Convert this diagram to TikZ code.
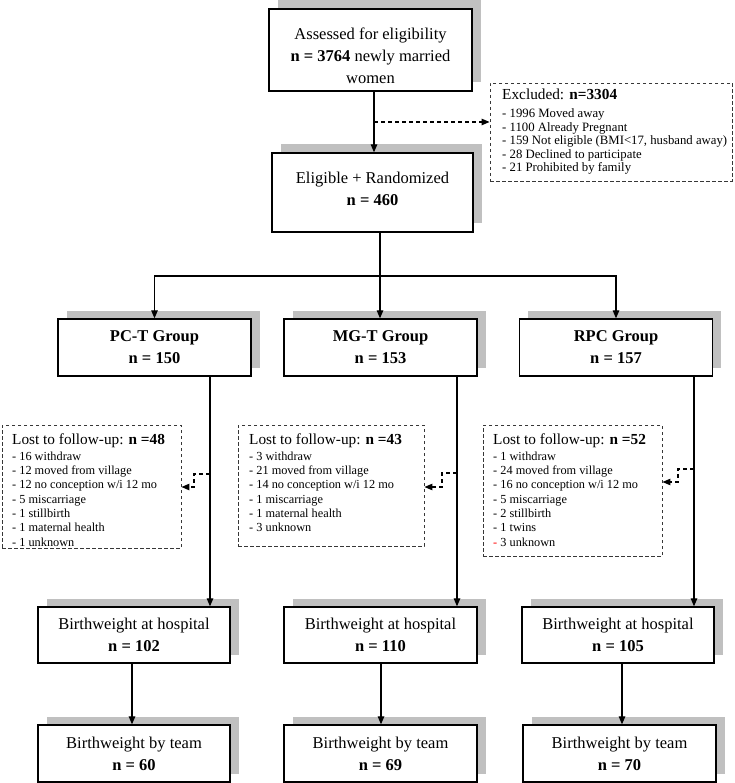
\documentclass[tikz,border=0pt]{standalone}
\usepackage{fontspec}
\setmainfont{Liberation Serif}
\usetikzlibrary{arrows.meta,shadows}
\definecolor{shade}{RGB}{192,192,192}
\definecolor{dashc}{RGB}{55,55,55}
\newcommand\hd[1]{{\fontsize{15.3}{15}\selectfont #1}}
\begin{document}
\begin{tikzpicture}[x=1pt,y=-1pt,
  box/.style={draw=black, line width=1.3pt, fill=white, inner sep=0pt, align=center,
     font=\fontsize{16.5}{22}\selectfont,
     general shadow={fill=shade, shadow xshift=8.5pt, shadow yshift=8.5pt}},
  dbox/.style={draw=dashc, line width=0.9pt, dash pattern=on 3.5pt off 2.5pt, fill=white, inner sep=0pt},
  big/.style={inner sep=0pt, align=center, font=\fontsize{16.5}{22}\selectfont},
  lost/.style={inner sep=0pt, align=left, anchor=north west, font=\fontsize{12.3}{14.3}\selectfont},
  excl/.style={inner sep=0pt, align=left, anchor=north west, font=\fontsize{12.75}{13.5}\selectfont},
  conn/.style={line width=1.2pt, draw=black},
  arr/.style={conn, -{Triangle[length=8pt,width=6.5pt]}},
  darr/.style={line width=1.1pt, draw=black, dash pattern=on 4pt off 3pt, -{Triangle[length=8pt,width=6.5pt]}},
]
\useasboundingbox (0,0) rectangle (734,783);

% main boxes
\node[box, minimum width=203pt, minimum height=82pt] (A) at (370.5,50) {};
\node[big] (At) at (370.5,56) {Assessed for eligibility\\\textbf{n = 3764} newly married\\women};
\node[box, minimum width=201pt, minimum height=79pt] (E) at (372.5,192.5) {};
\node[big] (Et) at (372.5,189) {Eligible + Randomized\\\textbf{n = 460}};

\node[box, minimum width=193pt, minimum height=57pt] (G1) at (154.5,347.5) {\textbf{PC-T Group}\\\textbf{n = 150}};
\node[box, minimum width=193pt, minimum height=57pt] (G2) at (380.5,347.5) {\textbf{MG-T Group}\\\textbf{n = 153}};
\node[box, minimum width=193pt, minimum height=57pt] (G3) at (616,347.5) {\textbf{RPC Group}\\\textbf{n = 157}};

\node[box, minimum width=192pt, minimum height=56pt] (H1) at (134,635) {Birthweight at hospital\\\textbf{n = 102}};
\node[box, minimum width=193pt, minimum height=56pt] (H2) at (380.5,635) {Birthweight at hospital\\\textbf{n = 110}};
\node[box, minimum width=192pt, minimum height=56pt] (H3) at (618,635) {Birthweight at hospital\\\textbf{n = 105}};

\node[box, minimum width=192pt, minimum height=57pt] (T1) at (134,753.5) {Birthweight by team\\\textbf{n = 60}};
\node[box, minimum width=193pt, minimum height=57pt] (T2) at (380.5,753.5) {Birthweight by team\\\textbf{n = 69}};
\node[box, minimum width=193pt, minimum height=57pt] (T3) at (619.5,753.5) {Birthweight by team\\\textbf{n = 70}};

% dashed boxes
\node[dbox, minimum width=242pt, minimum height=98pt] (X) at (611,132) {};
\node[excl] (Xt) at (502,88.5) {\hd{Excluded: \textbf{n=3304}}\\[5pt]
- 1996 Moved away\\
- 1100 Already Pregnant\\
- 159 Not eligible (BMI<17, husband away)\\
- 28 Declined to participate\\
- 21 Prohibited by family};

\node[dbox, minimum width=179pt, minimum height=123pt] (L1) at (91.5,486.5) {};
\node[lost] (L1t) at (12,434) {\hd{Lost to follow-up: \textbf{n =48}}\\[1pt]
- 16 withdraw\\
- 12 moved from village\\
- 12 no conception w/i 12 mo\\
- 5 miscarriage\\
- 1 stillbirth\\
- 1 maternal health\\
- 1 unknown};

\node[dbox, minimum width=186pt, minimum height=121pt] (L2) at (331,485.5) {};
\node[lost] (L2t) at (249,434) {\hd{Lost to follow-up: \textbf{n =43}}\\[1pt]
- 3 withdraw\\
- 21 moved from village\\
- 14 no conception w/i 12 mo\\
- 1 miscarriage\\
- 1 maternal health\\
- 3 unknown};

\node[dbox, minimum width=179pt, minimum height=131pt] (L3) at (572.5,490.5) {};
\node[lost] (L3t) at (493,434) {\hd{Lost to follow-up: \textbf{n =52}}\\[1pt]
- 1 withdraw\\
- 24 moved from village\\
- 16 no conception w/i 12 mo\\
- 5 miscarriage\\
- 2 stillbirth\\
- 1 twins\\
\textcolor{red}{-} 3 unknown};

% connectors
\coordinate (kx) at (374,122);
\draw[arr] ([xshift=3.5pt]A.south) -- ([xshift=1.5pt]E.north);
\draw[darr] (kx) -- (kx -| X.west);

\coordinate (split) at (380,276);
\draw[conn] ([xshift=7.5pt]E.south) -- (split);
\draw[arr] (split) -| (G1.north);
\draw[arr] (split) -| (G3.north);
\draw[arr] (split) -- (split |- G2.north);

\coordinate (v1) at (210,0);
\coordinate (v2) at (457,0);
\coordinate (v3) at (694,0);
\draw[arr] (v1 |- G1.south) -- (v1 |- H1.north);
\draw[arr] (v2 |- G2.south) -- (v2 |- H2.north);
\draw[arr] (v3 |- G3.south) -- (v3 |- H3.north);

\coordinate (k1) at (210,474); \coordinate (c1) at (194,487);
\coordinate (k2) at (457,473); \coordinate (c2) at (442,487);
\coordinate (k3) at (694,469); \coordinate (c3) at (678,482);
\draw[darr] (k1) -| (c1) -- (c1 -| L1.east);
\draw[darr] (k2) -| (c2) -- (c2 -| L2.east);
\draw[darr] (k3) -| (c3) -- (c3 -| L3.east);

\coordinate (u1) at (132,0);
\coordinate (u2) at (381,0);
\coordinate (u3) at (622,0);
\draw[arr] (u1 |- H1.south) -- (u1 |- T1.north);
\draw[arr] (u2 |- H2.south) -- (u2 |- T2.north);
\draw[arr] (u3 |- H3.south) -- (u3 |- T3.north);
\end{tikzpicture}
\end{document}
